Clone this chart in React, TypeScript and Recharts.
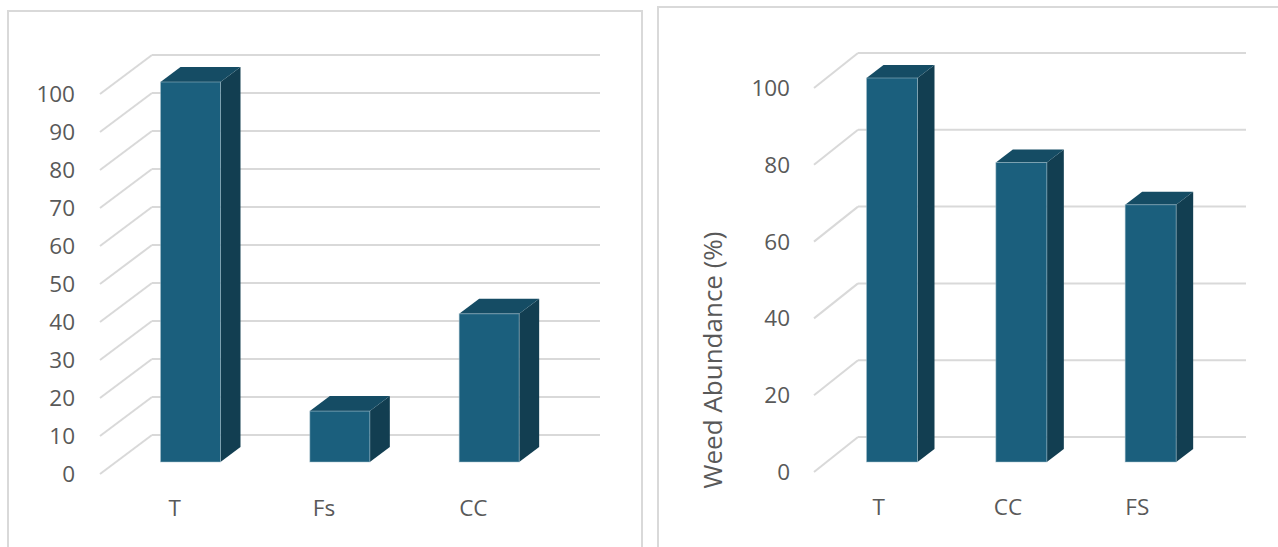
import React from "react";
import { BarChart, Bar, XAxis, YAxis, CartesianGrid } from "recharts";

// left panel: treatments vs relative value
const leftCategories = ["T", "Fs", "CC"];
const leftValues = [100, 13.4, 39];
const leftTicks = [0, 10, 20, 30, 40, 50, 60, 70, 80, 90, 100];

// right panel: weed abundance
const rightCategories = ["T", "CC", "FS"];
const rightValues = [100, 78, 67];
const rightTicks = [0, 20, 40, 60, 80, 100];

const leftData = leftCategories.map((name, i) => ({ name, value: leftValues[i] }));
const rightData = rightCategories.map((name, i) => ({ name, value: rightValues[i] }));

const FONT = "'Open Sans', 'Liberation Sans', sans-serif";
const TEXT = "#595959";
const GRID = "#d9d9d9";
const FRONT = "#1b5f7d";
const TOP = "#154c64";
const SIDE = "#123e51";

// back-wall gridline: diagonal from front plane then horizontal across the back
function makeGridLine(dx: number, dy: number) {
  return (props: any) => {
    const { x1, y1, x2 } = props;
    return (
      <g key={`g-${y1}`}>
        <line x1={x1} y1={y1} x2={x1 + dx} y2={y1 - dy} stroke={GRID} strokeWidth={2} />
        <line x1={x1 + dx} y1={y1 - dy} x2={x2 + dx} y2={y1 - dy} stroke={GRID} strokeWidth={2} />
      </g>
    );
  };
}

// 3D box drawn from the bar rect recharts computes
function makeBox(ox: number, oy: number, dx: number, dy: number) {
  return (props: any) => {
    const { x, y, width, height } = props;
    const fx = x + ox;
    const fy = y + oy;
    return (
      <g>
        <polygon
          points={`${fx + width},${fy} ${fx + width + dx},${fy - dy} ${fx + width + dx},${fy + height - dy} ${fx + width},${fy + height}`}
          fill={SIDE}
        />
        <polygon
          points={`${fx},${fy} ${fx + dx},${fy - dy} ${fx + width + dx},${fy - dy} ${fx + width},${fy}`}
          fill={TOP}
        />
        <rect x={fx} y={fy} width={width} height={height} fill={FRONT} stroke="#a9c3cf" strokeOpacity={0.5} strokeWidth={1} />
      </g>
    );
  };
}

const YTitle = () => (
  <text
    x={54}
    y={360}
    transform="rotate(-90, 54, 360)"
    textAnchor="middle"
    dominantBaseline="central"
    fill={TEXT}
    fontSize={26}
    fontFamily={FONT}
  >
    Weed Abundance (%)
  </text>
);

const tickStyle = { fill: TEXT, fontSize: 22.5, fontFamily: FONT };

export default function App() {
  return (
    <div style={{ position: "absolute", left: 0, top: 0, width: 1278, height: 547, background: "#fff", overflow: "hidden" }}>
      {/* panel frames */}
      <div style={{ position: "absolute", left: 7, top: 10, width: 632, height: 560, border: `2px solid ${GRID}` }} />
      <div style={{ position: "absolute", left: 657, top: 6, width: 640, height: 560, border: `2px solid ${GRID}` }} />

      <div style={{ position: "absolute", left: 0, top: 0 }}>
        <BarChart
          width={640}
          height={547}
          data={leftData}
          barSize={60}
          margin={{ top: 94, right: 92, bottom: 33, left: 0 }}
        >
          <CartesianGrid vertical={false} horizontal={makeGridLine(52, 39)} />
          <XAxis
            dataKey="name"
            axisLine={false}
            tickLine={false}
            tickSize={0}
            tickMargin={26}
            height={40}
            tick={tickStyle}
          />
          <YAxis
            domain={[0, 100]}
            ticks={leftTicks}
            interval={0}
            width={100}
            axisLine={false}
            tickLine={false}
            tickSize={0}
            tickMargin={25}
            tick={tickStyle}
          />
          <Bar dataKey="value" isAnimationActive={false} shape={makeBox(15.5, -12, 20, 15)} />
        </BarChart>
      </div>

      <div style={{ position: "absolute", left: 658, top: 0 }}>
        <BarChart
          width={620}
          height={547}
          data={rightData}
          barSize={51}
          margin={{ top: 88, right: 76, bottom: 35, left: 0 }}
        >
          <CartesianGrid vertical={false} horizontal={makeGridLine(44, 35)} />
          <XAxis
            dataKey="name"
            axisLine={false}
            tickLine={false}
            tickSize={0}
            tickMargin={27}
            height={40}
            tick={tickStyle}
          />
          <YAxis
            domain={[0, 100]}
            ticks={rightTicks}
            interval={0}
            width={156}
            axisLine={false}
            tickLine={false}
            tickSize={0}
            tickMargin={24}
            tick={tickStyle}
            label={<YTitle />}
          />
          <Bar dataKey="value" isAnimationActive={false} shape={makeBox(13.5, -10, 17, 13)} />
        </BarChart>
      </div>
    </div>
  );
}
